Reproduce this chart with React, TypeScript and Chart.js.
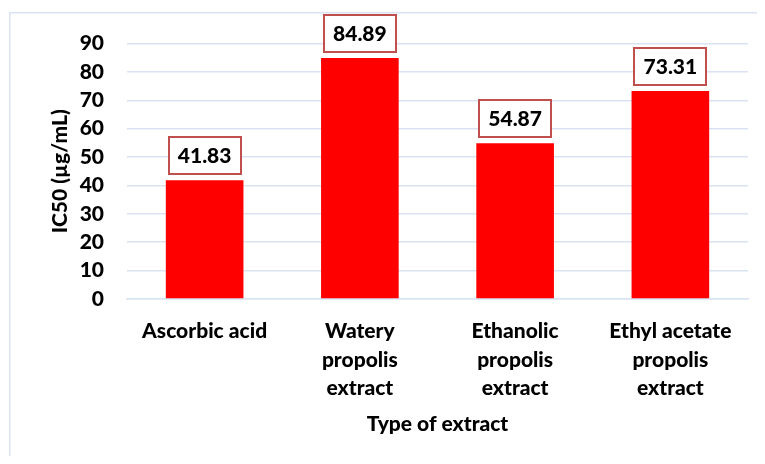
import React, { useEffect, useRef } from "react";
import { Chart, registerables } from "chart.js";

Chart.register(...registerables);

const categories: string[][] = [
  ["Ascorbic acid"],
  ["Watery", "propolis", "extract"],
  ["Ethanolic", "propolis", "extract"],
  ["Ethyl acetate", "propolis", "extract"],
];
const ic50Values: number[] = [41.83, 84.89, 54.87, 73.31];
const yTitle = "IC50 (µg/mL)";
const xTitle = "Type of extract";
const yMin = 0;
const yMax = 90;
const yStep = 10;

const FONT = "Lato, 'Open Sans', sans-serif";
const WEIGHT = "900";
const FS = 21;

const frameAndLabels = {
  id: "frameAndLabels",
  beforeDraw(chart: any) {
    const ctx = chart.ctx;
    ctx.save();
    ctx.strokeStyle = "#D9E3F4";
    ctx.lineWidth = 1.5;
    ctx.beginPath();
    ctx.moveTo(1.75, chart.height + 5);
    ctx.lineTo(1.75, 4.75);
    ctx.lineTo(chart.width + 5, 4.75);
    ctx.stroke();
    ctx.restore();
  },
  afterDatasetsDraw(chart: any) {
    const ctx = chart.ctx;
    const meta = chart.getDatasetMeta(0);
    const data = chart.data.datasets[0].data as number[];
    ctx.save();
    ctx.font = `${WEIGHT} ${FS}px ${FONT}`;
    meta.data.forEach((bar: any, i: number) => {
      const text = data[i].toFixed(2);
      const tw = ctx.measureText(text).width;
      const w = Math.round(tw + 18);
      const h = 37;
      const bottom = bar.y - 6;
      const x0 = Math.round(bar.x - w / 2);
      const y0 = Math.round(bottom - h);
      ctx.fillStyle = "#FFFFFF";
      ctx.fillRect(x0, y0, w, h);
      ctx.strokeStyle = "#C0504D";
      ctx.lineWidth = 2;
      ctx.strokeRect(x0, y0, w, h);
      ctx.fillStyle = "#000000";
      ctx.textAlign = "center";
      ctx.textBaseline = "middle";
      ctx.fillText(text, bar.x, y0 + h / 2 + 1);
    });
    ctx.restore();
  },
};

export default function App() {
  const canvasRef = useRef<HTMLCanvasElement | null>(null);

  useEffect(() => {
    if (!canvasRef.current) return;
    const chart = new Chart(canvasRef.current, {
      type: "bar",
      data: {
        labels: categories,
        datasets: [
          {
            data: ic50Values,
            backgroundColor: "#FF0000",
            borderWidth: 0,
            barPercentage: 0.5,
            categoryPercentage: 1,
          },
        ],
      },
      options: {
        responsive: true,
        maintainAspectRatio: false,
        animation: false,
        layout: { padding: { top: 34, right: 9, bottom: 0, left: 0 } },
        plugins: {
          legend: { display: false },
          tooltip: { enabled: false },
        },
        scales: {
          x: {
            grid: { display: false, drawTicks: false },
            border: { display: true, color: "#D9E3F4", width: 1.5 },
            ticks: {
              color: "#000000",
              padding: 18,
              maxRotation: 0,
              autoSkip: false,
              font: { family: FONT, size: FS, weight: WEIGHT as any, lineHeight: 28.5 / FS },
            },
            title: {
              display: true,
              text: xTitle,
              color: "#000000",
              font: { family: FONT, size: FS, weight: WEIGHT as any, lineHeight: 1.2 },
              padding: { top: 0, bottom: 19 },
            },
            afterFit(scale: any) {
              scale.height = 157;
            },
          },
          y: {
            min: yMin,
            max: yMax,
            grid: { color: "#D9E3F4", lineWidth: 1.5, drawTicks: false },
            border: { display: false },
            ticks: {
              stepSize: yStep,
              color: "#000000",
              padding: 23,
              font: { family: FONT, size: FS, weight: WEIGHT as any },
            },
            title: {
              display: true,
              text: yTitle,
              color: "#000000",
              font: { family: FONT, size: FS, weight: WEIGHT as any, lineHeight: 1.2 },
              padding: { top: 40, bottom: 0 },
            },
            afterFit(scale: any) {
              scale.width = 119;
            },
          },
        },
      },
      plugins: [frameAndLabels],
    });
    return () => chart.destroy();
  }, []);

  return (
    <div style={{ position: "relative", width: 749, height: 448 }}>
      <canvas ref={canvasRef} />
    </div>
  );
}
